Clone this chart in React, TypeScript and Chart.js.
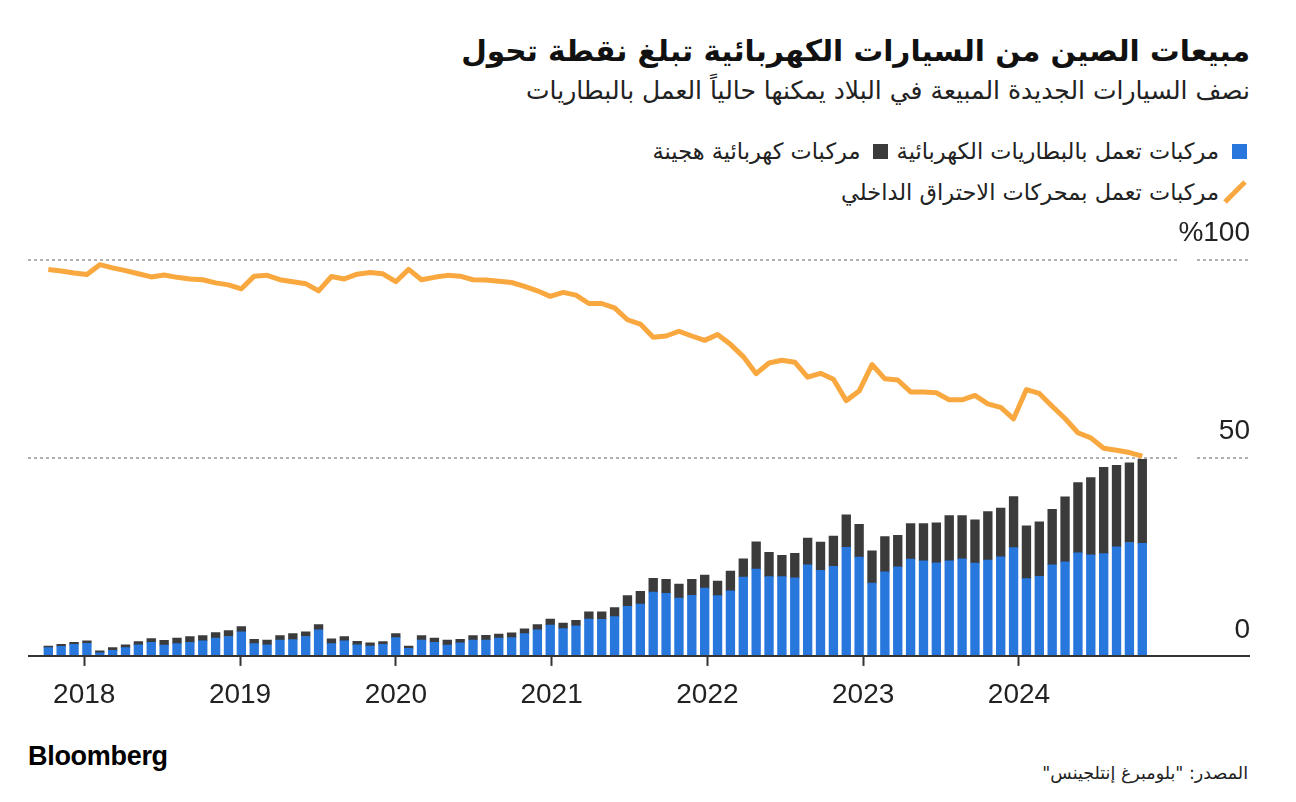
import React, { useEffect, useRef } from "react";
import { Chart, registerables } from "chart.js";

Chart.register(...registerables);

// Months (one bar per month)
const months = [
  "2017-09", "2017-10", "2017-11", "2017-12",
  "2018-01", "2018-02", "2018-03", "2018-04", "2018-05", "2018-06", "2018-07", "2018-08", "2018-09", "2018-10", "2018-11", "2018-12",
  "2019-01", "2019-02", "2019-03", "2019-04", "2019-05", "2019-06", "2019-07", "2019-08", "2019-09", "2019-10", "2019-11", "2019-12",
  "2020-01", "2020-02", "2020-03", "2020-04", "2020-05", "2020-06", "2020-07", "2020-08", "2020-09", "2020-10", "2020-11", "2020-12",
  "2021-01", "2021-02", "2021-03", "2021-04", "2021-05", "2021-06", "2021-07", "2021-08", "2021-09", "2021-10", "2021-11", "2021-12",
  "2022-01", "2022-02", "2022-03", "2022-04", "2022-05", "2022-06", "2022-07", "2022-08", "2022-09", "2022-10", "2022-11", "2022-12",
  "2023-01", "2023-02", "2023-03", "2023-04", "2023-05", "2023-06", "2023-07", "2023-08", "2023-09", "2023-10", "2023-11", "2023-12",
  "2024-01", "2024-02", "2024-03", "2024-04", "2024-05", "2024-06", "2024-07", "2024-08", "2024-09", "2024-10",
];

// Battery-electric share of new car sales (%)
const bevShare = [
  2.1, 2.4, 2.9, 3.2, 0.8, 1.4, 2.1, 2.8, 3.4, 2.7,
  3.1, 3.4, 3.8, 4.5, 4.9, 6.1, 3.1, 2.8, 4.0, 4.1,
  4.9, 6.6, 3.1, 3.8, 2.8, 2.5, 2.9, 4.6, 1.9, 4.0,
  3.4, 2.7, 3.3, 4.0, 4.0, 4.5, 4.6, 5.6, 6.6, 7.8,
  6.9, 7.6, 9.3, 9.2, 9.9, 12.5, 13.1, 16.1, 15.8, 14.6,
  15.3, 17.1, 15.2, 16.4, 19.9, 21.9, 20.0, 20.0, 19.7, 23.0,
  21.6, 22.6, 27.4, 24.9, 18.4, 21.2, 22.5, 24.4, 24.0, 23.5,
  24.0, 24.5, 23.4, 24.2, 25.0, 27.3, 19.5, 20.1, 23.0, 23.7,
  26.0, 25.5, 25.8, 27.5, 28.6, 28.4,
];

// Plug-in hybrid share of new car sales (%)
const phevShare = [
  0.4, 0.5, 0.5, 0.6, 0.5, 0.7, 0.7, 0.8, 1.0, 1.2,
  1.4, 1.5, 1.3, 1.4, 1.5, 1.3, 1.1, 1.2, 1.1, 1.5,
  1.2, 1.3, 1.2, 1.1, 0.9, 0.8, 0.7, 1.0, 0.6, 1.1,
  1.1, 1.3, 0.9, 1.1, 1.2, 1.0, 1.2, 1.2, 1.3, 1.5,
  1.4, 1.4, 1.8, 1.9, 2.3, 2.7, 3.2, 3.5, 3.5, 3.5,
  4.0, 3.3, 3.7, 5.0, 4.6, 6.9, 6.1, 5.4, 6.2, 6.7,
  7.1, 7.6, 8.2, 8.3, 8.1, 8.9, 7.9, 9.0, 9.4, 10.1,
  11.4, 10.9, 10.9, 12.2, 12.3, 12.9, 13.3, 13.7, 14.0, 16.4,
  17.7, 19.5, 21.8, 20.6, 20.1, 21.2,
];

// Internal-combustion share of new car sales (%)
const iceShare = [
  97.5, 97.1, 96.6, 96.2, 98.7, 97.9, 97.2, 96.4, 95.6, 96.1,
  95.5, 95.1, 94.9, 94.1, 93.6, 92.6, 95.8, 96.0, 94.9, 94.4,
  93.9, 92.1, 95.7, 95.1, 96.3, 96.7, 96.4, 94.4, 97.5, 94.9,
  95.5, 96.0, 95.8, 94.9, 94.8, 94.5, 94.2, 93.2, 92.1, 90.7,
  91.7, 91.0, 88.9, 88.9, 87.8, 84.8, 83.7, 80.4, 80.7, 81.9,
  80.7, 79.6, 81.1, 78.6, 75.5, 71.2, 73.9, 74.6, 74.1, 70.3,
  71.3, 69.8, 64.4, 66.8, 73.5, 69.9, 69.6, 66.6, 66.6, 66.4,
  64.6, 64.6, 65.7, 63.6, 62.7, 59.8, 67.2, 66.2, 63.0, 59.9,
  56.3, 55.0, 52.4, 51.9, 51.3, 50.4,
];

// Axis ticks
const yearTicks = [2018, 2019, 2020, 2021, 2022, 2023, 2024];
const yTicks = [0, 50, 100];

const BLUE = "#2877dd";
const DARK = "#3b3b3b";
const ORANGE = "#f9a83f";
const NUM_FONT = '"Liberation Sans", Arial, sans-serif';
const AR_FONT = '"DejaVu Sans", sans-serif';

const guidePlugin = {
  id: "guides",
  beforeDatasetsDraw(chart: any) {
    const { ctx, chartArea, scales } = chart;
    const y = scales.y;
    ctx.save();
    ctx.strokeStyle = "#b0b0b0";
    ctx.lineWidth = 2;
    ctx.setLineDash([3, 3]);
    yTicks.forEach((v) => {
      if (v === 0) return;
      const py = Math.round(y.getPixelForValue(v));
      ctx.beginPath();
      ctx.moveTo(chartArea.left, py);
      ctx.lineTo(chartArea.right - 73, py);
      ctx.moveTo(chartArea.right - 53, py);
      ctx.lineTo(chartArea.right - 2, py);
      ctx.stroke();
    });
    ctx.restore();
  },
  afterDatasetsDraw(chart: any) {
    const { ctx, chartArea, scales } = chart;
    const py = scales.y.getPixelForValue(0);
    ctx.save();
    ctx.strokeStyle = "#333333";
    ctx.lineWidth = 2;
    ctx.beginPath();
    ctx.moveTo(chartArea.left, py);
    ctx.lineTo(chartArea.right, py);
    ctx.stroke();
    ctx.restore();
  },
};

function ChartCanvas() {
  const ref = useRef<HTMLCanvasElement>(null);
  useEffect(() => {
    if (!ref.current) return;
    const chart = new Chart(ref.current, {
      type: "bar",
      data: {
        labels: months,
        datasets: [
          {
            type: "line",
            label: "ICE",
            data: iceShare.map((v, i) => ({ x: i, y: v })),
            borderColor: ORANGE,
            borderWidth: 5,
            pointRadius: 0,
            tension: 0,
            borderJoinStyle: "round",
            fill: false,
            stack: "ice",
            order: 0,
          } as any,
          {
            type: "bar",
            label: "BEV",
            data: bevShare.map((v, i) => ({ x: i, y: v })),
            backgroundColor: BLUE,
            barThickness: 8.7,
            stack: "ev",
            order: 1,
          },
          {
            type: "bar",
            label: "PHEV",
            data: phevShare.map((v, i) => ({ x: i, y: v })),
            backgroundColor: DARK,
            barThickness: 8.7,
            stack: "ev",
            order: 1,
          },
        ],
      },
      options: {
        animation: false,
        responsive: false,
        events: [],
        layout: { padding: { left: 28, right: 46, top: 59.5, bottom: 4.5 } },
        plugins: {
          legend: { display: false },
          tooltip: { enabled: false },
          title: { display: false },
        },
        scales: {
          x: {
            type: "linear",
            display: false,
            min: -1.577,
            max: 93.37,
            bounds: "data",
            offset: false,
            stacked: true,
          },
          xYear: {
            type: "linear",
            position: "bottom",
            min: 2017.639,
            max: 2025.483,
            bounds: "data",
            offset: false,
            afterBuildTicks: (scale: any) => {
              scale.ticks = yearTicks.map((v) => ({ value: v }));
            },
            grid: {
              offset: false,
              drawOnChartArea: false,
              drawTicks: true,
              tickLength: 10,
              tickWidth: 2,
              tickColor: "#333333",
            },
            border: { display: false },
            ticks: {
              autoSkip: false,
              maxRotation: 0,
              padding: 13,
              color: "#222222",
              font: { family: NUM_FONT, size: 28 },
              callback: (v: any) => String(v),
            },
          },
          y: {
            type: "linear",
            position: "right",
            min: 0,
            max: 100,
            bounds: "data",
            stacked: true,
            afterBuildTicks: (scale: any) => {
              scale.ticks = yTicks.map((v) => ({ value: v }));
            },
            grid: { display: false, drawTicks: false },
            border: { display: false },
            ticks: {
              mirror: true,
              padding: 0,
              labelOffset: -26,
              color: "#222222",
              font: { family: NUM_FONT, size: 28 },
              callback: (v: any) => (v === 100 ? "%100" : String(v)),
            },
          },
        },
      } as any,
      plugins: [guidePlugin],
    });
    return () => chart.destroy();
  }, []);
  return <canvas ref={ref} width={1296} height={530} style={{ width: 1296, height: 530, display: "block" }} />;
}

export default function App() {
  return (
    <div
      style={{
        position: "fixed",
        left: 0,
        top: 0,
        width: 1296,
        height: 802,
        background: "#ffffff",
        overflow: "hidden",
      }}
    >
      <div
        dir="rtl"
        style={{
          position: "absolute",
          right: 46,
          top: 29,
          fontFamily: AR_FONT,
          fontWeight: 700,
          fontSize: 29.6,
          lineHeight: "44px",
          color: "#111111",
          whiteSpace: "nowrap",
        }}
      >
        مبيعات الصين من السيارات الكهربائية تبلغ نقطة تحول
      </div>
      <div
        dir="rtl"
        style={{
          position: "absolute",
          right: 46,
          top: 73,
          fontFamily: AR_FONT,
          fontSize: 25,
          lineHeight: "36px",
          color: "#222222",
          whiteSpace: "nowrap",
        }}
      >
        نصف السيارات الجديدة المبيعة في البلاد يمكنها حالياً العمل بالبطاريات
      </div>

      <div
        dir="rtl"
        style={{
          position: "absolute",
          right: 49,
          top: 136,
          height: 30,
          display: "flex",
          alignItems: "center",
          fontFamily: AR_FONT,
          fontSize: 22.5,
          color: "#222222",
          whiteSpace: "nowrap",
        }}
      >
        <span style={{ width: 15, height: 15, background: BLUE, display: "inline-block", marginLeft: 13, flex: "none" }} />
        <span>مركبات تعمل بالبطاريات الكهربائية</span>
        <span style={{ width: 15, height: 15, background: DARK, display: "inline-block", marginRight: 9, marginLeft: 12, flex: "none" }} />
        <span>مركبات كهربائية هجينة</span>
      </div>
      <div
        dir="rtl"
        style={{
          position: "absolute",
          right: 49,
          top: 177,
          height: 30,
          display: "flex",
          alignItems: "center",
          fontFamily: AR_FONT,
          fontSize: 22.5,
          color: "#222222",
          whiteSpace: "nowrap",
        }}
      >
        <svg width={24} height={24} style={{ marginLeft: 4, display: "block", flex: "none" }}>
          <line x1={2} y1={22} x2={22} y2={2} stroke={ORANGE} strokeWidth={5} />
        </svg>
        <span>مركبات تعمل بمحركات الاحتراق الداخلي</span>
      </div>

      <div style={{ position: "absolute", left: 0, top: 200 }}>
        <ChartCanvas />
      </div>

      <div
        style={{
          position: "absolute",
          left: 28,
          top: 739,
          fontFamily: '"Liberation Sans", Arial, sans-serif',
          fontWeight: 700,
          fontSize: 27,
          letterSpacing: "-0.3px",
          color: "#000000",
          lineHeight: "34px",
        }}
      >
        Bloomberg
      </div>
      <div
        dir="rtl"
        style={{
          position: "absolute",
          right: 48,
          top: 760,
          fontFamily: AR_FONT,
          fontSize: 17.5,
          lineHeight: "26px",
          color: "#222222",
          whiteSpace: "nowrap",
        }}
      >
        المصدر: "بلومبرغ إنتلجينس"
      </div>
    </div>
  );
}
